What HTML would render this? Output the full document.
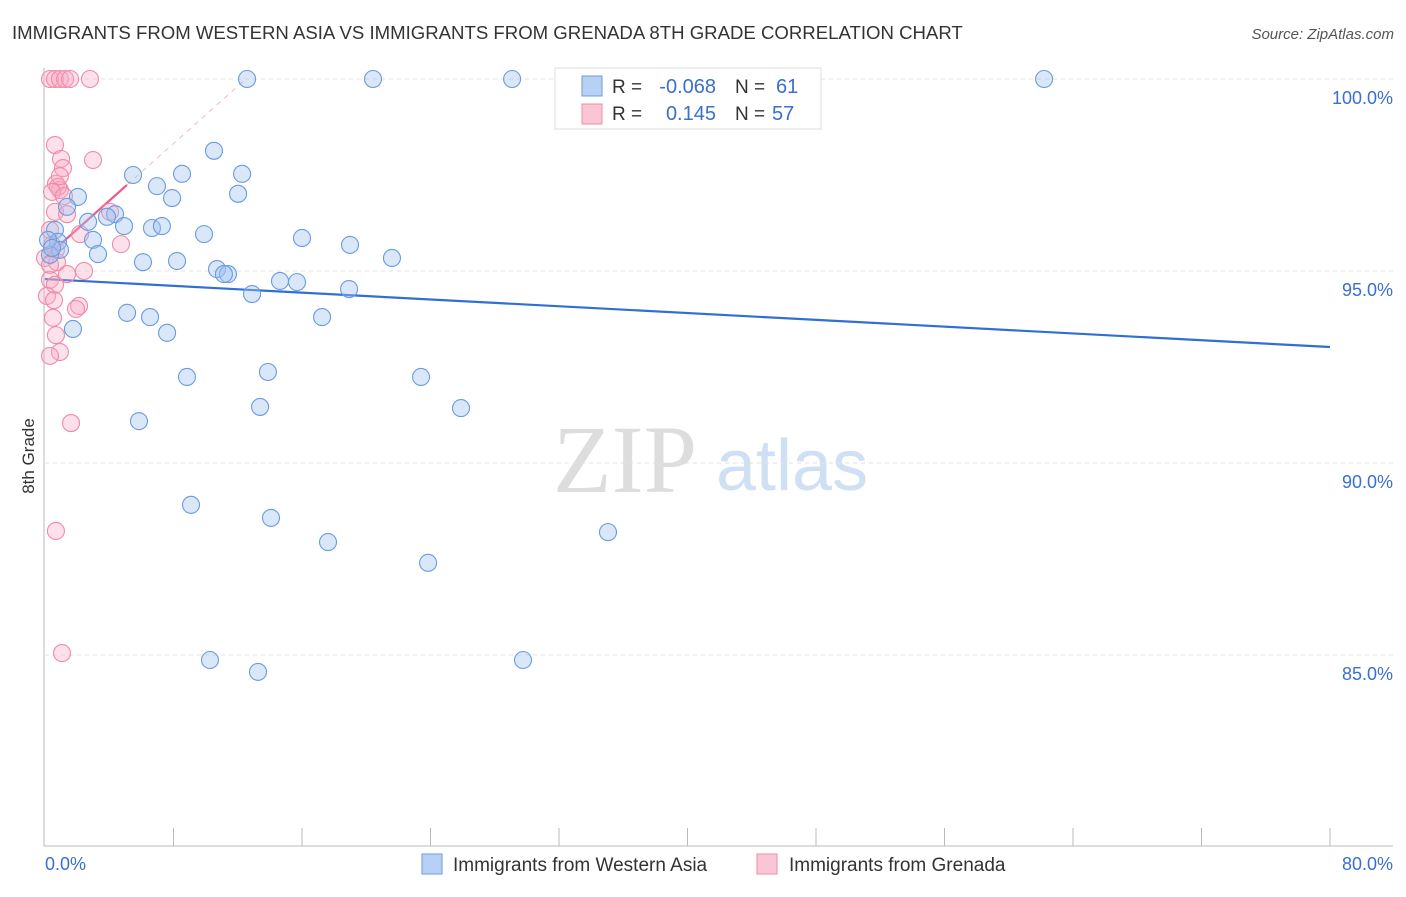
<!DOCTYPE html>
<html><head><meta charset="utf-8"><style>
body{margin:0;background:#fff;font-family:"Liberation Sans",sans-serif;}
svg text{font-family:"Liberation Sans",sans-serif;}
</style></head><body>
<svg id="chart" width="1406" height="892" viewBox="0 0 1406 892">
<text x="12" y="39" font-size="18.6" fill="#333">IMMIGRANTS FROM WESTERN ASIA VS IMMIGRANTS FROM GRENADA 8TH GRADE CORRELATION CHART</text>
<text x="1394" y="39" font-size="15" fill="#555" font-style="italic" text-anchor="end">Source: ZipAtlas.com</text>
<g>
<text x="553" y="492" font-size="96" fill="#ddd" font-family="Liberation Serif" style="font-family:'Liberation Serif',serif">ZIP</text>
<text x="716" y="490" font-size="72" fill="#cfe0f5">atlas</text>
</g>
<g id="grid"></g>
<g id="axes"></g>
<g id="trend"></g>
<g id="pts"></g>
<text transform="translate(34,456) rotate(-90)" font-size="17" fill="#333" text-anchor="middle">8th Grade</text>
<text x="45" y="870" font-size="18" fill="#3a6fd0">0.0%</text>
<text x="1393" y="870" font-size="18" fill="#3a6fd0" text-anchor="end">80.0%</text>
<g>
<rect x="555" y="68" width="266" height="61" fill="#fff" stroke="#ddd"/>
<rect x="582" y="76" width="20" height="20" fill="#b7d1f4" stroke="#6a9be0"/>
<rect x="582" y="104" width="20" height="20" fill="#fac6d5" stroke="#f08aa8"/>
<text x="612" y="93" font-size="19" fill="#333">R =</text>
<text x="716" y="93" font-size="20" fill="#3a6fd0" text-anchor="end">-0.068</text>
<text x="735" y="93" font-size="19" fill="#333">N =</text>
<text x="776" y="93" font-size="20" fill="#3a6fd0">61</text>
<text x="612" y="120" font-size="19" fill="#333">R =</text>
<text x="716" y="120" font-size="20" fill="#3a6fd0" text-anchor="end">0.145</text>
<text x="735" y="120" font-size="19" fill="#333">N =</text>
<text x="772" y="120" font-size="20" fill="#3a6fd0">57</text>
</g>
<g>
<g><rect x="422" y="854" width="20" height="20" fill="#b7d1f4" stroke="#6a9be0"/><text x="453" y="871" font-size="19" fill="#333">Immigrants from Western Asia</text></g>
<g><rect x="757" y="854" width="20" height="20" fill="#fac6d5" stroke="#f08aa8"/><text x="789" y="871" font-size="19" fill="#333">Immigrants from Grenada</text></g>
</g>
</svg>
<script>
const yTicks=[100,95,90,85];
const yTickLabels=["100.0%","95.0%","90.0%","85.0%"];
const blueX=[12.58,20.42,29.08,42.34,62.2,10.52,5.48,8.53,12.27,6.97,12.02,2.05,7.91,1.37,4.36,3.86,2.68,4.92,6.66,7.28,9.90,16.0,18.99,0.62,0.81,2.99,0.93,3.30,6.10,8.22,21.6,10.71,11.39,11.14,14.63,15.69,12.89,18.93,5.11,6.54,17.25,1.74,7.60,8.84,13.88,23.41,13.39,25.9,5.85,9.09,14.07,17.62,23.85,35.05,10.27,13.26,29.76,0.31,0.19,0.44];
const blueY=[100,100,100,100,100,98.13,97.50,97.53,97.53,97.21,97.01,96.93,96.90,96.67,96.48,96.41,96.28,96.17,96.12,96.17,95.96,95.86,95.68,96.07,95.76,95.81,95.55,95.44,95.23,95.26,95.34,95.05,94.92,94.92,94.74,94.71,94.40,94.53,93.91,93.80,93.80,93.49,93.39,92.24,92.37,92.24,91.46,91.43,91.09,88.91,88.57,87.94,87.40,88.20,84.87,84.56,84.87,95.42,95.81,95.60];
const pinkX=[0.31,0.62,0.93,1.25,1.56,2.80,0.62,1.0,2.99,1.12,0.68,0.93,0.81,0.44,0.62,1.18,0.31,0.44,0.68,2.18,4.05,4.73,0,2.43,1.37,0.31,0.62,0.12,0.56,2.12,1.93,0.5,0.68,0.93,0.31,1.62,0.68,1.06,1.37,0.93,0.75,0.31];
const pinkY=[100,100,100,100,100,100,98.28,97.92,97.89,97.68,97.27,97.11,97.19,97.06,96.54,96.95,96.07,95.68,95.55,95.96,96.54,95.70,95.34,95.0,94.92,94.77,94.64,94.35,94.24,94.09,94.01,93.78,93.33,92.89,92.79,91.04,88.23,85.05,96.48,97.47,95.23,95.16];
const blueTrend=[94.79,93.02];
const pinkTrend=[95.34,0.3725];
const NS="http://www.w3.org/2000/svg";
const X=v=>45+v/80*1285, Y=v=>79+(100-v)*38.4;
function mk(tag,attrs,parent){const e=document.createElementNS(NS,tag);for(const k in attrs)e.setAttribute(k,attrs[k]);document.getElementById(parent).appendChild(e);return e;}
yTicks.forEach((t,i)=>{
const l=mk('line',{x1:45,x2:1393,y1:Y(t),y2:Y(t),stroke:'#e2e2e2','stroke-dasharray':'4,4'},'grid');


const tx=mk('text',{x:1393,y:Y(t)+25,'font-size':18,fill:'#3a6fd0','text-anchor':'end'},'grid');
tx.textContent=yTickLabels[i];


});
mk('line',{x1:44,x2:44,y1:68,y2:846,stroke:'#bbb'},'axes');
const xa=mk('line',{x1:44,x2:1393,y1:846,y2:846,stroke:'#bbb'},'axes');


for(let v=8;v<=80;v+=8){const t=mk('line',{x1:X(v),x2:X(v),y1:828,y2:846,stroke:'#bbb'},'axes');

}
const pe=(100-pinkTrend[0])/pinkTrend[1];
const pd=mk('line',{x1:X(0),y1:Y(pinkTrend[0]),x2:X(pe),y2:Y(100),stroke:'#f0b8c8','stroke-dasharray':'5,5'},'trend');


function dots(xs,ys,fill,stroke,name){xs.forEach((x,i)=>{const c=mk('circle',{cx:X(x),cy:Y(ys[i]),r:8.5,fill:fill,stroke:stroke,'stroke-width':1.1},'pts');

});}
dots(pinkX,pinkY,'rgba(248,170,195,0.35)','#f08aa8','grenada-point');
dots(blueX,blueY,'rgba(160,196,240,0.4)','#6a9be0','western-asia-point');
const bt=mk('line',{x1:X(0),y1:Y(blueTrend[0]),x2:X(80),y2:Y(blueTrend[1]),stroke:'#2f6fd6','stroke-width':2.2},'trend');


const pt=mk('line',{x1:X(0),y1:Y(pinkTrend[0]),x2:X(5.1),y2:Y(pinkTrend[0]+pinkTrend[1]*5.1),stroke:'#e8608a','stroke-width':2.2},'trend');


</script>
</body></html>
